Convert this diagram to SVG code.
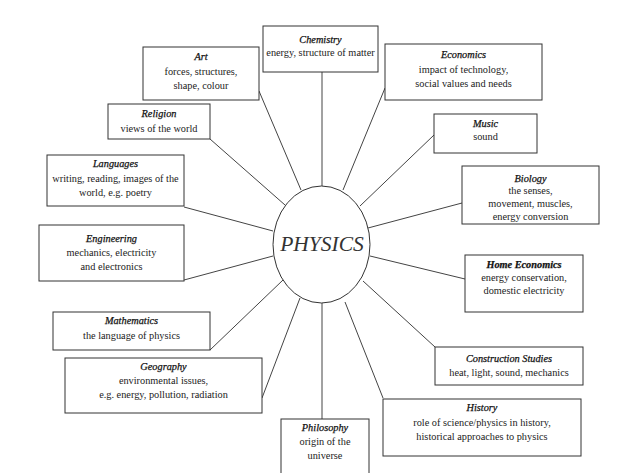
<svg xmlns="http://www.w3.org/2000/svg" width="643" height="473" viewBox="0 0 643 473">
<style>
.b{fill:#fff;stroke:#333;stroke-width:1}
.c line{stroke:#444;stroke-width:1}
text{font-family:"Liberation Serif","Times New Roman",serif;font-size:10.3px;fill:#222;text-anchor:middle}
.t{font-style:italic;fill:#111;stroke:#111;stroke-width:0.25}
.p{font-size:21.5px;font-style:italic;fill:#333}
</style>
<rect width="643" height="473" fill="#fff"/>
<g id="connectors" class="c">
<line x1="322" y1="72" x2="322" y2="186"/>
<line x1="259" y1="91" x2="301" y2="190"/>
<line x1="385" y1="88" x2="343" y2="190"/>
<line x1="434" y1="135" x2="360" y2="206"/>
<line x1="462" y1="203" x2="368" y2="228"/>
<line x1="465" y1="279" x2="370" y2="256"/>
<line x1="435" y1="347" x2="363" y2="281"/>
<line x1="383" y1="398" x2="345" y2="302"/>
<line x1="322" y1="419" x2="322" y2="303"/>
<line x1="262" y1="398" x2="300" y2="298"/>
<line x1="210" y1="350" x2="283" y2="280"/>
<line x1="184" y1="280" x2="273" y2="256"/>
<line x1="184" y1="207" x2="273" y2="231"/>
<line x1="210" y1="139" x2="285" y2="205"/>
</g>
<g id="physics">
<ellipse cx="321.5" cy="244.5" rx="48.5" ry="58.5" class="b"/>
<text x="322" y="251" class="p">PHYSICS</text>
</g>
<g id="chemistry">
<rect x="263" y="26" width="115" height="46" class="b"/>
<text x="320.5" y="42.5" class="t">Chemistry</text>
<text x="320.5" y="56">energy, structure of matter</text>
</g>
<g id="art">
<rect x="143" y="47" width="116" height="53" class="b"/>
<text x="201" y="60" class="t">Art</text>
<text x="201" y="74.5">forces, structures,</text>
<text x="201" y="89">shape, colour</text>
</g>
<g id="economics">
<rect x="385" y="44" width="157" height="56" class="b"/>
<text x="463.5" y="58" class="t">Economics</text>
<text x="463.5" y="72.5">impact of technology,</text>
<text x="463.5" y="86.5">social values and needs</text>
</g>
<g id="religion">
<rect x="108" y="104" width="102" height="35" class="b"/>
<text x="159" y="117" class="t">Religion</text>
<text x="159" y="131.5">views of the world</text>
</g>
<g id="music">
<rect x="434" y="114" width="103" height="39" class="b"/>
<text x="485.5" y="126.5" class="t">Music</text>
<text x="485.5" y="140">sound</text>
</g>
<g id="languages">
<rect x="47" y="155" width="137" height="51" class="b"/>
<text x="115.5" y="167" class="t">Languages</text>
<text x="115.5" y="181.5">writing, reading, images of the</text>
<text x="115.5" y="196">world, e.g. poetry</text>
</g>
<g id="biology">
<rect x="462" y="166" width="137" height="58" class="b"/>
<text x="530.5" y="181.5" class="t">Biology</text>
<text x="530.5" y="194">the senses,</text>
<text x="530.5" y="207">movement, muscles,</text>
<text x="530.5" y="220">energy conversion</text>
</g>
<g id="engineering">
<rect x="39" y="225" width="145" height="56" class="b"/>
<text x="111.5" y="241.5" class="t">Engineering</text>
<text x="111.5" y="255.5">mechanics, electricity</text>
<text x="111.5" y="270">and electronics</text>
</g>
<g id="home-economics">
<rect x="465" y="255" width="118" height="57" class="b"/>
<text x="524" y="267.5" class="t" font-weight="bold">Home Economics</text>
<text x="524" y="281">energy conservation,</text>
<text x="524" y="294">domestic electricity</text>
</g>
<g id="mathematics">
<rect x="53" y="312" width="157" height="38" class="b"/>
<text x="131.5" y="323.5" class="t">Mathematics</text>
<text x="131.5" y="338.5">the language of physics</text>
</g>
<g id="construction-studies">
<rect x="435" y="347" width="148" height="38" class="b"/>
<text x="509" y="361.5" class="t">Construction Studies</text>
<text x="509" y="376">heat, light, sound, mechanics</text>
</g>
<g id="geography">
<rect x="65" y="358" width="197" height="55" class="b"/>
<text x="163.5" y="369.5" class="t">Geography</text>
<text x="163.5" y="383.5">environmental issues,</text>
<text x="163.5" y="398">e.g. energy, pollution, radiation</text>
</g>
<g id="history">
<rect x="383" y="399" width="198" height="57" class="b"/>
<text x="482" y="411" class="t">History</text>
<text x="482" y="425.5">role of science/physics in history,</text>
<text x="482" y="440">historical approaches to physics</text>
</g>
<g id="philosophy">
<rect x="281" y="419" width="88" height="60" class="b"/>
<text x="325" y="431" class="t">Philosophy</text>
<text x="325" y="445">origin of the</text>
<text x="325" y="459">universe</text>
</g>
</svg>
